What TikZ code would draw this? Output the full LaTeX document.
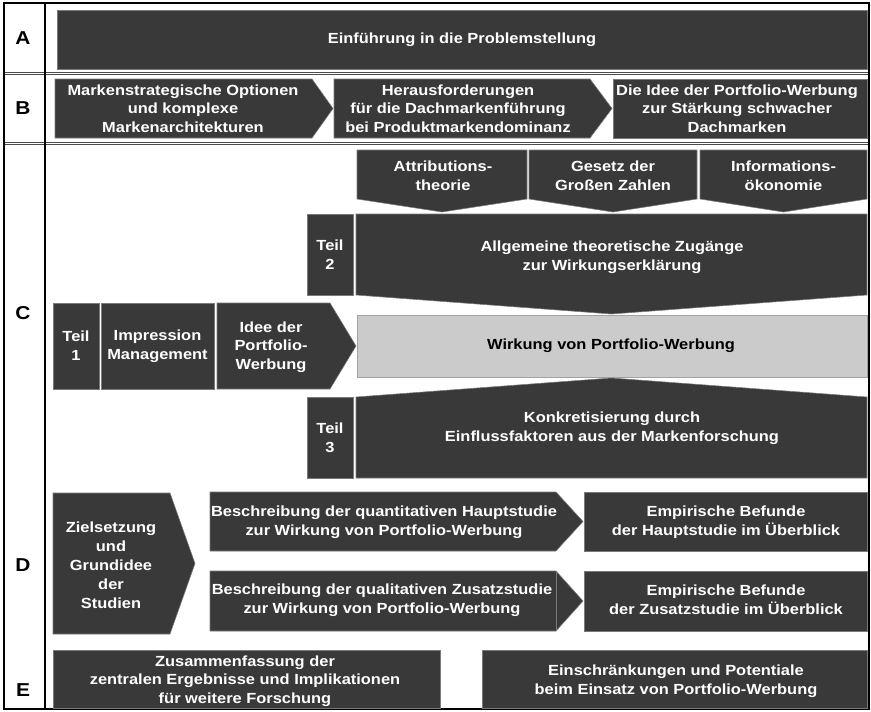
\documentclass[tikz,border=0pt]{standalone}
\usepackage{fontspec}
\setmainfont{Liberation Sans}[FakeStretch=1.12]
\usepackage{tikz}
\usepackage{xcolor}
\definecolor{boxdark}{HTML}{393939}
\definecolor{boxgrey}{HTML}{CBCBCB}
\definecolor{boxedge}{HTML}{7A7A7A}
\tikzset{%
	box/.style     = {fill=boxdark, draw=boxedge, line width=0.4pt},
	boxlight/.style= {fill=boxgrey, draw=boxgrey!80!black, line width=0.4pt},
	txt/.style     = {text=white, font=\bfseries\fontsize{11}{14}\selectfont, align=center, inner sep=0pt},
	txtdark/.style = {txt, text=black},
	rowlabel/.style= {font=\bfseries\fontsize{14}{16}\selectfont, inner sep=0pt},
	frame/.style   = {draw=black, line width=1.2pt},
	rowsep/.style  = {draw=black!70, line width=0.6pt, double=white, double distance=0.8pt},
}
\begin{document}
\begin{tikzpicture}[x=0.75pt,y=-0.75pt]
	\useasboundingbox (0,0) rectangle (871,711);
	% Zeilentrennung
	\draw[rowsep] (4,73.5) -- (869,73.5);
	\draw[rowsep] (4,143.5) -- (869,143.5);
	\draw[rowsep] (4,483) -- (869,483);
	\draw[rowsep] (4,645) -- (869,645);
	\draw[frame] (4,3) rectangle (869,709);
	\draw[frame] (45,3) -- (45,709);
	% Zeilenbuchstaben
	\node[rowlabel] (rowA) at (23,38) {A};
	\node[rowlabel] (rowB) at (23,108.5) {B};
	\node[rowlabel] (rowC) at (23,313) {C};
	\node[rowlabel] (rowD) at (23,565) {D};
	\node[rowlabel] (rowE) at (23,690) {E};
	% A
	\draw[box] (57,10) rectangle (867,69);
	\node[txt] (einf) at (462,40) {Einführung in die Problemstellung};
	% B
	\draw[box] (55,79) -- (312,79) -- (333,108.5) -- (312,138) -- (55,138) -- cycle;
	\node[txt] (optionen) at (183,108.5) {Markenstrategische Optionen\\und komplexe\\Markenarchitekturen};
	\draw[box] (334,79) -- (590,79) -- (612,108.5) -- (590,138) -- (334,138) -- cycle;
	\node[txt] (herausf) at (458,108.5) {Herausforderungen\\für die Dachmarkenführung\\bei Produktmarkendominanz};
	\draw[box] (613,79) rectangle (867,138);
	\node[txt] (idee) at (737,108.5) {Die Idee der Portfolio-Werbung\\zur Stärkung schwacher\\Dachmarken};
	% C, Theorien
	\draw[box] (357,150) -- (527,150) -- (527,199) -- (442,212) -- (357,199) -- cycle;
	\node[txt] (attrib) at (443,176) {Attributions-\\theorie};
	\draw[box] (529,150) -- (697,150) -- (697,199) -- (613,212) -- (529,199) -- cycle;
	\node[txt] (gesetz) at (613,176) {Gesetz der\\Großen Zahlen};
	\draw[box] (700,150) -- (867,150) -- (867,199) -- (783.5,212) -- (700,199) -- cycle;
	\node[txt] (infoek) at (783.5,176) {Informations-\\ökonomie};
	% C, Teil 2
	\draw[box] (307,214) rectangle (353,295);
	\node[txt] (teil2) at (330,254.5) {Teil\\2};
	\draw[box] (356,214) -- (867,214) -- (867,295) -- (611.5,314) -- (356,295) -- cycle;
	\node[txt] (zugaenge) at (612,257) {Allgemeine theoretische Zugänge\\zur Wirkungserklärung};
	% C, Teil 1
	\draw[box] (53,303) rectangle (99,389);
	\node[txt] (teil1) at (76,346) {Teil\\1};
	\draw[box] (101,303) rectangle (214,389);
	\node[txt] (impr) at (157.5,346) {Impression\\Management};
	\draw[box] (217,303) -- (330,303) -- (356,346) -- (330,389) -- (217,389) -- cycle;
	\node[txt] (ideepw) at (271,347) {Idee der\\Portfolio-\\Werbung};
	\draw[boxlight] (357,315) rectangle (867,377);
	\node[txtdark] (wirkung) at (611,346) {Wirkung von Portfolio-Werbung};
	% C, Teil 3
	\draw[box] (307,397) rectangle (353,478);
	\node[txt] (teil3) at (330,437.5) {Teil\\3};
	\draw[box] (356,397) -- (611.5,378) -- (867,397) -- (867,478) -- (356,478) -- cycle;
	\node[txt] (konkret) at (612,428.5) {Konkretisierung durch\\Einflussfaktoren aus der Markenforschung};
	% D
	\draw[box] (53,493) -- (170,493) -- (195,563.5) -- (170,634) -- (53,634) -- cycle;
	\node[txt, font=\bfseries\fontsize{11}{14.3}\selectfont] (ziel) at (111,565) {Zielsetzung\\und\\Grundidee\\der\\Studien};
	\draw[box] (210,492) -- (556,492) -- (583,521.5) -- (556,551) -- (210,551) -- cycle;
	\node[txt] (quanti) at (384,522.5) {Beschreibung der quantitativen Hauptstudie\\zur Wirkung von Portfolio-Werbung};
	\draw[box] (584,492) rectangle (867,551);
	\node[txt] (befHaupt) at (726,522.5) {Empirische Befunde\\der Hauptstudie im Überblick};
	\draw[box] (210,571) -- (556,571) -- (583,601) -- (556,631) -- (210,631) -- cycle;
	\draw[boxedge, line width=0.6pt] (556,571) -- (556,631);
	\node[txt] (quali) at (382,600) {Beschreibung der qualitativen Zusatzstudie\\zur Wirkung von Portfolio-Werbung};
	\draw[box] (584,571) rectangle (867,631);
	\node[txt] (befZusatz) at (726,600) {Empirische Befunde\\der Zusatzstudie im Überblick};
	% E
	\draw[box] (53,650) rectangle (440,708);
	\node[txt] (zusfass) at (245,681) {Zusammenfassung der\\zentralen Ergebnisse und Implikationen\\für weitere Forschung};
	\draw[box] (482,650) rectangle (867,708);
	\node[txt] (grenzen) at (676,681.5) {Einschränkungen und Potentiale\\beim Einsatz von Portfolio-Werbung};
\end{tikzpicture}
\end{document}
